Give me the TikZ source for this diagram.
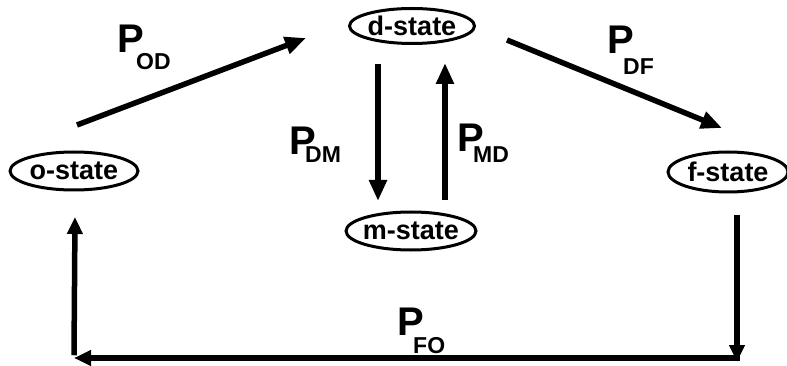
\documentclass[tikz,border=0pt]{standalone}
\usepackage{fontspec}
\setmainfont{Liberation Sans}
\usetikzlibrary{arrows.meta,shapes.geometric}
\newcommand{\Plab}[3]{\rlap{\fontsize{40}{40}\selectfont\bfseries P}\hspace*{#2}\raisebox{-#3}{\fontsize{23}{23}\selectfont\bfseries #1}}
\begin{document}
\begin{tikzpicture}[x=1pt,y=-1pt,
  state/.style={draw,ellipse,line width=3pt,inner sep=0pt,font=\fontsize{27}{27}\selectfont\bfseries},
  trans/.style={line width=5.5pt,-{Triangle[length=21pt,width=17pt]}},
  small/.style={line width=5.5pt,-{Triangle[length=17pt,width=15pt]}},
  plab/.style={anchor=base west,inner sep=0pt}]
\useasboundingbox (0,0) rectangle (787,366);
\node[state,minimum width=125pt,minimum height=35pt] (d) at (412,26) {\makebox[0pt]{d-state}};
\node[state,minimum width=128pt,minimum height=38pt] (o) at (74,171) {\makebox[0pt]{o-state}};
\node[state,minimum width=120pt,minimum height=40pt] (f) at (728,172) {\makebox[0pt]{f-state}};
\node[state,minimum width=130pt,minimum height=38pt] (m) at (411,231) {\makebox[0pt]{m-state}};
% arrow endpoints
\coordinate (od1) at (77,125);
\coordinate (od2) at (306,38);
\coordinate (df1) at (507,40);
\coordinate (df2) at (722,128);
\coordinate (dm1) at (378,64);
\coordinate (dm2) at (378,201);
\coordinate (md1) at (445,200);
\coordinate (md2) at (445,63);
\coordinate (fo1) at (737,215);
\coordinate (fo2) at (737,362);
\coordinate (bl) at (74,358);
\coordinate (lt) at (75,217);
\draw[trans] (od1) -- (od2);
\draw[trans] (df1) -- (df2);
\draw[trans] (dm1) -- (dm2);
\draw[trans] (md1) -- (md2);
\draw[small] (fo1) -- (fo2);
\draw[small] ([xshift=2.75pt]fo2 |- bl) -- (bl);
\draw[small] ([yshift=2.75pt]bl) -- (lt);
\node[plab] (pod) at (117,53) {\Plab{OD}{19pt}{17pt}};
\node[plab] (pdm) at (289,155) {\Plab{DM}{16pt}{8pt}};
\node[plab] (pmd) at (457,152) {\Plab{MD}{16pt}{11pt}};
\node[plab] (pdf) at (607,54) {\Plab{DF}{16pt}{21pt}};
\node[plab] (pfo) at (397,335) {\Plab{FO}{16pt}{18pt}};
\end{tikzpicture}
\end{document}
